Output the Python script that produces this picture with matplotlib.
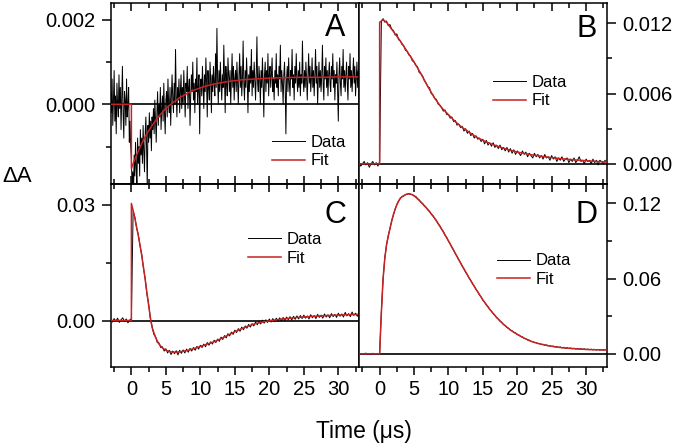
import numpy as np
import matplotlib
matplotlib.use("Agg")
import matplotlib.pyplot as plt
from matplotlib.ticker import MultipleLocator, FormatStrFormatter

plt.rcParams['font.family'] = ['Liberation Sans', 'DejaVu Sans']

# ---- panel A (units 1e-4), data sampled every 0.1 us from -3 to 33 ----
a_data = [3, -2, 6, -5, 1, 8, -4, 2, -7, 5, 0, -3, 7, -1, 4, -6, 2, 9, -2, -8,
          3, 1, -5, 6, -3, 0, 4, -9, -4, -10,
          -13, -20, -16, -22, -12, -17, -9, -15, -19, -8,
          -14, -10, -17, -6, -12, -8, -14, -5, -11, -16,
          -7, -3, -10, -20, -5, -9, -2, -8, -4, -11, -3,
          -6, -1, -7, 1, -4, -9, -2, 3, -5, 0, -3, 4, -6, -1, 2, -4, 5, -2, -7, 1,
          3, -3, 6, 0, -2, 4, -5, 2, 7, 1,
          -2, 5, 0, 13, 2, -3, 4, 1, 6, -2, 3, 7, -1, 4, 0, 8, 2, -3, 5, 3,
          9, -1, 4, 6, -5, 2, 7, 3, 10, 1, 5, -2, 6, 3, 11, 0, 4, 7, -7, 5,
          6, 2, 9, 4, -1, 7, 3, 11, 5, -3, 8, 4, 1, 10, 6, -2, 7, 3, 9, 5,
          2, 12, 4, 18, 6, 0, 8, 3, 10, 5, 1, 7, 4, 14, 6, -2, 9, 5, 2, 11,
          7, 3, 8, 0, 6, 12, 4, 9, 1, 6,
          8, 3, 10, 5, 0, 7, 12, 4, 9, 2, 6, 15, 5, 1, 8, 4, 11, 6, -2, 7,
          3, 9, 5, 13, 2, 8, 4, 10, 6, 1, 7, 16, 5, 3, 9, 6, 0, 8, 4, 11,
          5, -3, 7, 10, 3, 8, 5, 12, 2, 7,
          9, 4, 7, 11, 3, 6, 1, 8, 5, 12, 4, 7, 2, 9, 6, 14, 3, 8, 5, 0,
          7, 10, 4, -7, 6, 9, 3, 11, 5, 2, 8, 6, 13, 4, 7, 1, 9, 5, 12, 6,
          3, 8, 4, 10, 2, 7, 5, 15, 6, 3,
          8, 4, 10, 6, 1, 7, 12, 5, 9, 3, 6, 11, 4, 8, 2, 7, 13, 5, 9, 0,
          6, 10, 4, 8, 3, 7, 14, 5, 1, 9, 6, 11, 4, 8, 2, 7, 10, 5, 3, 9,
          6, 12, 4, 8, 1, 7, 5, 10, 3, -4,
          7, 11, 5, 2, 9, 6, 13, 4, 8, 3, 7, 10, 5, 1, 9, 6, 12, 4, 8, 3,
          7, 11, 5, 9, 2, 6, 10, 4, 8, 6]
a_fit_t = [-3, 0, 0, 0.5, 1, 1.5, 2, 2.5, 3, 4, 5, 6, 7, 8, 9, 10, 11, 12, 13,
           14, 15, 16, 17, 18, 19, 20, 22, 24, 26, 28, 30, 33]
a_fit = [0, 0, -15.2, -13.0, -11.1, -9.3, -7.7, -6.3, -5.0, -2.8, -1.0, 0.4,
         1.6, 2.5, 3.3, 3.9, 4.4, 4.8, 5.1, 5.4, 5.6, 5.8, 5.9, 6.0, 6.1, 6.2,
         6.3, 6.4, 6.4, 6.4, 6.5, 6.5]

# ---- panel B (units 1e-4), data every 0.25 us ----
b_data = [1, -2, 0, 2, -1, 1, -3, 0, 2, -1, 1, -2,
          2,
          122, 124, 121, 122, 118, 119, 115, 114,
          110, 111, 106, 105, 102, 101, 97, 96,
          93, 92, 88, 87, 84, 83, 78, 77,
          75, 71, 69, 66, 65, 60, 59, 56,
          55, 51, 50, 48, 45, 46, 42, 42,
          39, 40, 36, 37, 33, 34, 31, 32,
          28, 30, 26, 28, 24, 26, 22, 24,
          21, 22, 19, 21, 17, 20, 16, 18,
          15, 18, 14, 16, 13, 16, 12, 14,
          11, 14, 10, 13, 9, 12, 8, 11,
          9, 7, 11, 8, 10, 6, 9, 7,
          5, 9, 6, 8, 5, 7, 4, 8,
          5, 6, 3, 7, 4, 6, 2, 5,
          3, 6, 2, 4, 5, 1, 4, 2,
          5, 1, 3, 6, 2, 3, 0, 4,
          2, 3, 0, 4, 1, 3, -1, 3,
          2, 0, 3, 1]
b_fit_t = [-3, 0, 0, 0.5, 1, 2, 3, 4, 5, 6, 7, 8, 9, 10, 11, 12, 13, 14, 15,
           16, 17, 18, 19, 20, 22, 24, 26, 28, 30, 33]
b_fit = [0, 0, 121, 123, 121, 113, 105, 96, 87, 77, 66, 56, 48, 42, 36, 31, 27,
         23, 20, 17.5, 15.3, 13.3, 11.6, 10, 7.8, 6, 4.6, 3.5, 2.6, 1.5]

# ---- panel C (units 1e-4), data every 0.25 us ----
c_data = [3, -4, 5, -2, 6, -5, 2, 7, -3, 4, -6, 1,
          5,
          282, 268, 240, 223, 193, 171, 135, 109,
          68, 43, 4, -15,
          -36, -41, -57, -58, -70, -68, -79, -73,
          -84, -77, -88, -79, -86, -78, -89, -77,
          -85, -76, -84, -74, -82, -72, -79, -70,
          -77, -67, -74, -64, -70, -61, -68, -57,
          -64, -55, -61, -51, -57, -48, -54, -43,
          -49, -39, -45, -34, -40, -30, -36, -25,
          -31, -21, -28, -17, -24, -14, -20, -10,
          -17, -8, -14, -4, -11, -2, -9, 1,
          -7, 2, -5, 4, -4, 5, -3, 6,
          -2, 7, -1, 8, 0, 9, 2, 10,
          1, 11, 3, 12, 4, 13, 5, 14,
          6, 12, 4, 15, 7, 13, 5, 16,
          8, 14, 6, 17, 9, 15, 7, 18,
          10, 16, 8, 19, 11, 17, 9, 21,
          12, 18, 10, 22, 13, 19, 11, 17]
c_fit_t = [-3, 0, 0, 0.25, 0.5, 0.75, 1.0, 1.25, 1.5, 1.75, 2.0, 2.25, 2.5, 2.75,
           3.0, 3.5, 4.0, 4.5, 5.0, 5.5, 6.0, 6.5, 7, 8, 9, 10, 11, 12, 13, 14,
           15, 16, 17, 18, 19, 20, 21, 22, 23, 24, 25, 26, 27, 28, 30, 33]
c_fit = [0, 0, 303, 285, 265, 242, 220, 195, 168, 138, 106, 72, 40, 8, -18,
         -44, -61, -71, -77, -80, -82, -82, -81, -78, -73, -67, -61, -55, -47,
         -38, -29, -21, -14, -8, -4, -1, 2, 4, 6, 8, 9, 10.5, 11.5, 12.5, 14, 16]

# ---- panel D (units 1e-3), data every 0.25 us ----
d_data = [0.4, -0.5, 0.3, -0.2, 0.6, -0.4, 0.1, -0.6, 0.5, -0.3, 0.2, -0.4,
          0.3,
          33.5, 59.4, 76.6, 86.5, 94.2, 99.6, 106.1, 110.5,
          115.4, 118.6, 121.9, 123.6, 125.4, 125.8, 127.0, 127.0,
          127.8, 127.0, 126.9, 125.7, 125.4, 123.7, 122.6, 120.6,
          119.8, 117.7, 116.7, 114.6, 113.5, 111.3, 110.1, 107.7,
          106.3, 103.6, 102.0, 99.2, 97.6, 94.6, 92.7, 89.8,
          87.7, 84.8, 82.7, 79.8, 77.6, 74.8, 72.7, 69.8,
          67.8, 65.0, 63.1, 60.3, 58.4, 55.8, 54.0, 51.3,
          49.5, 47.0, 45.3, 42.8, 41.2, 38.9, 37.5, 35.3,
          34.0, 32.0, 30.7, 28.8, 27.7, 26.0, 25.0, 23.3,
          22.5, 21.0, 20.3, 18.8, 18.3, 17.0, 16.6, 15.3,
          15.0, 13.8, 13.5, 12.3, 12.1, 11.0, 10.9, 9.8,
          9.7, 8.9, 8.9, 8.1, 8.2, 7.4, 7.6, 6.8,
          7.1, 6.3, 6.6, 5.8, 6.2, 5.4, 5.8, 5.0,
          5.5, 4.7, 5.2, 4.4, 4.9, 4.2, 4.7, 4.0,
          4.5, 3.8, 4.3, 3.6, 4.1, 3.5, 4.0, 3.3,
          3.8, 3.2, 3.7, 3.1, 3.6, 3.0, 3.5, 2.9,
          3.4, 2.9, 3.4, 3.0]
d_fit_t = [-3, 0, 0.1, 0.25, 0.5, 0.75, 1.0, 1.5, 2.0, 2.5, 3.0, 3.5, 4.0, 4.5,
           5.0, 6, 7, 8, 9, 10, 11, 12, 13, 14, 15, 16, 17, 18, 19, 20, 21, 22,
           23, 24, 25, 26, 27, 28, 29, 30, 31, 33]
d_fit = [0, 0, 14, 33, 60, 76, 87, 100, 111, 119, 124, 126, 127.4, 127.3, 126,
         121, 115, 108, 99.5, 90, 80, 70, 60.5, 51.5, 43, 35.5, 29, 23.5, 19,
         15.5, 12.5, 10, 8.3, 7, 6, 5.2, 4.6, 4.2, 3.8, 3.5, 3.3, 3.1]

panels = [
    ("A", a_data, a_fit_t, a_fit, 1e-4, (-0.0019, 0.0024), 0.002, 0.001, '%.3f'),
    ("B", b_data, b_fit_t, b_fit, 1e-4, (-0.00177, 0.01374), 0.006, 0.003, '%.3f'),
    ("C", c_data, c_fit_t, c_fit, 1e-4, (-0.0119, 0.0352), 0.03, 0.015, '%.2f'),
    ("D", d_data, d_fit_t, d_fit, 1e-3, (-0.0101, 0.1349), 0.06, 0.03, '%.2f'),
]
legend_pos = {"A": (0.65, 0.18), "B": (0.541, 0.511),
              "C": (0.553, 0.646), "D": (0.557, 0.53)}
letter_pos = {"A": (0.903, 0.862), "B": (0.92, 0.856),
              "C": (0.907, 0.835), "D": (0.92, 0.835)}

FIT_RED = '#c82222'

fig = plt.figure(figsize=(6.77, 4.46), dpi=100)
x0, xm, x1 = 110.7 / 677, 359 / 677, 606.7 / 677
yt, ym, yb = 1 - 3 / 446, 1 - 184.5 / 446, 1 - 366.5 / 446
rects = [[x0, ym, xm - x0, yt - ym], [xm, ym, x1 - xm, yt - ym],
         [x0, yb, xm - x0, ym - yb], [xm, yb, x1 - xm, ym - yb]]

for i, (name, data, ft, fv, unit, ylim, maj, mnr, fmt) in enumerate(panels):
    ax = fig.add_axes(rects[i])
    t = np.linspace(-3, 33, len(data))
    ax.axhline(0, color='black', lw=1.2, zorder=1)
    ax.plot(t, np.array(data) * unit, color='black', lw=0.7, label='Data', zorder=2)
    ax.plot(ft, np.array(fv) * unit, color=FIT_RED, lw=1.1, label='Fit', zorder=3)
    ax.set_xlim(-3, 33)
    ax.set_ylim(*ylim)
    ax.xaxis.set_major_locator(MultipleLocator(5))
    ax.xaxis.set_minor_locator(MultipleLocator(2.5))
    ax.yaxis.set_major_locator(MultipleLocator(maj))
    ax.yaxis.set_minor_locator(MultipleLocator(mnr))
    ax.yaxis.set_major_formatter(FormatStrFormatter(fmt))
    for s in ax.spines.values():
        s.set_linewidth(1.1)

    right = i % 2 == 1
    bottom = i >= 2
    if right:
        ax.yaxis.tick_right()
    ax.tick_params(axis='y', which='both', direction='out', width=1.1,
                   labelsize=14.5, pad=4.5)
    ax.tick_params(axis='y', which='major', length=6.5)
    ax.tick_params(axis='y', which='minor', length=3.5)

    if not bottom:
        ax.tick_params(axis='x', which='both', direction='in', top=True,
                       bottom=True, labelbottom=False, width=1.1)
    else:
        ax.tick_params(axis='x', which='both', direction='out', top=False,
                       bottom=True, width=1.1, labelsize=14.5, pad=3.5)
        sec = ax.secondary_xaxis('top')
        sec.xaxis.set_major_locator(MultipleLocator(5))
        sec.xaxis.set_minor_locator(MultipleLocator(2.5))
        sec.tick_params(axis='x', which='both', direction='in', labeltop=False,
                        width=1.1)
        sec.tick_params(axis='x', which='major', length=6)
        sec.tick_params(axis='x', which='minor', length=3.5)
        sec.spines['top'].set_linewidth(1.1)
    ax.tick_params(axis='x', which='major', length=6)
    ax.tick_params(axis='x', which='minor', length=3.5)

    ax.legend(loc='center left', bbox_to_anchor=legend_pos[name], frameon=False,
              fontsize=12, handlelength=2.0, handletextpad=0.3,
              labelspacing=0.2, borderpad=0, borderaxespad=0)
    lx, ly = letter_pos[name]
    ax.text(lx, ly, name, transform=ax.transAxes, fontsize=22,
            ha='center', va='center')

fig.text(0.003, 1 - 182.5 / 446, 'ΔA', fontsize=16, ha='left', va='baseline')
fig.text(364 / 677, 1 - 438.3 / 446, 'Time (μs)', fontsize=16.5,
         ha='center', va='baseline')

fig.savefig('out.png', dpi=100)
